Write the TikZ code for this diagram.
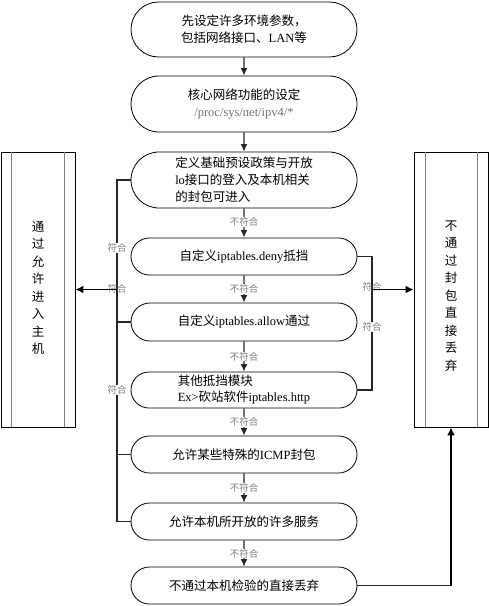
\documentclass[tikz,border=0pt]{standalone}
\usepackage{fontspec}
\setmainfont{Noto Sans CJK SC}
\newfontfamily\lat{Liberation Serif}
\usetikzlibrary{shapes.misc,arrows.meta}
\begin{document}
\begin{tikzpicture}[x=1pt,y=-1pt,
  stepnode/.style={draw=black,line width=0.8pt,rounded rectangle,minimum width=226pt,inner sep=0pt,align=center,font=\fontsize{12.5}{17}\selectfont},
  sidebox/.style={draw=black,line width=0.8pt,rectangle,minimum width=74pt,minimum height=275pt,inner sep=0pt},
  vtext/.style={align=center,inner sep=0pt,font=\fontsize{12.5}{17.5}\selectfont},
  arr/.style={draw=black,line width=1.6pt,-{Latex[length=8pt,width=8pt]}},
  flow/.style={draw=black!85,line width=1.4pt,-{Latex[length=7.5pt,width=7pt]}},
  bus/.style={draw=black!85,line width=1.6pt},
  lbl/.style={text=black!50,font=\fontsize{9.5}{10}\selectfont,fill=white,inner sep=0.6pt}
]
\useasboundingbox (0,0) rectangle (489,606);

\node[stepnode,minimum height=55pt] (n1) at (244,29.5) {先设定许多环境参数，\\包括网络接口、{\lat LAN}等};
\node[stepnode,minimum height=56pt] (n2) at (244,104) {核心网络功能的设定\\{\lat\color{black!55}/proc/sys/net/ipv4/*}};
\node[stepnode,minimum height=56pt,align=left] (n3) at (244,180) {定义基础预设政策与开放\\{\lat lo}接口的登入及本机相关\\的封包可进入};
\node[stepnode,minimum height=37pt] (n4) at (244,256.5) {自定义{\lat iptables.deny}抵挡};
\node[stepnode,minimum height=38pt] (n5) at (244,322) {自定义{\lat iptables.allow}通过};
\node[stepnode,minimum height=36pt,align=left] (n6) at (244,390) {其他抵挡模块\\[-1pt]{\lat Ex>}砍站软件{\lat iptables.http}};
\node[stepnode,minimum height=37pt] (n7) at (244,454.5) {允许某些特殊的{\lat ICMP}封包};
\node[stepnode,minimum height=37pt] (n8) at (244,521.5) {允许本机所开放的许多服务};
\node[stepnode,minimum height=37pt] (n9) at (244,585.5) {不通过本机检验的直接丢弃};

\node[sidebox] (L) at (38,289.5) {};
\node[sidebox] (R) at (451,289.5) {};
\node[vtext] (Lt) at (38,288) {通\\过\\允\\许\\进\\入\\主\\机};
\node[vtext] (Rt) at (451,296) {不\\通\\过\\封\\包\\直\\接\\丢\\弃};
\draw[black!50,line width=1.3pt] ([xshift=11pt]L.north west) -- ([xshift=11pt]L.south west);
\draw[black!50,line width=1.3pt] ([xshift=-11pt]L.north east) -- ([xshift=-11pt]L.south east);
\draw[black!50,line width=1.3pt] ([xshift=12pt]R.north west) -- ([xshift=12pt]R.south west);
\draw[black!50,line width=1.3pt] ([xshift=-11pt]R.north east) -- ([xshift=-11pt]R.south east);

\coordinate (lb) at (117,0);
\coordinate (rb) at (372,0);

% main flow
\draw[flow] (n1) -- (n2);
\draw[flow] (n2) -- (n3);
\draw[flow] (n3) -- node[lbl,pos=0.45] (t1) {不符合} (n4);
\draw[flow] (n4) -- node[lbl,pos=0.5] (t2) {不符合} (n5);
\draw[flow] (n5) -- node[lbl,pos=0.5] (t3) {不符合} (n6);
\draw[flow] (n6) -- node[lbl,pos=0.5] (t4) {不符合} (n7);
\draw[flow] (n7) -- node[lbl,pos=0.5] (t5) {不符合} (n8);
\draw[flow] (n8) -- node[lbl,pos=0.5] (t6) {不符合} (n9);

% left bus
\draw[bus] (n3.west) -- (n3.west -| lb) -- (n8.west -| lb) -- (n8.west);
\draw[bus] (n5.west) -- (n5.west -| lb);
\draw[bus] (n7.west) -- (n7.west -| lb);
\node[lbl] (f1) at (117,248) {符合};
\node[lbl] (f3) at (117,390) {符合};
\node[lbl,fill=none] (f2) at (117,289) {符合};
\draw[arr] (lb |- L.east) -- (L.east);

% right bus
\draw[bus] (n4.east) -- (n4.east -| rb) -- (n6.east -| rb) -- (n6.east);
\node[lbl,fill=none] (g1) at (372,287) {符合};
\node[lbl] (g2) at (372,327) {符合};
\draw[arr] (rb |- R.west) -- (R.west);

% bottom
\draw[bus] (n9.east) -- (n9.east -| R.south);
\draw[arr] (n9.east -| R.south) -- (R.south);
\end{tikzpicture}
\end{document}
